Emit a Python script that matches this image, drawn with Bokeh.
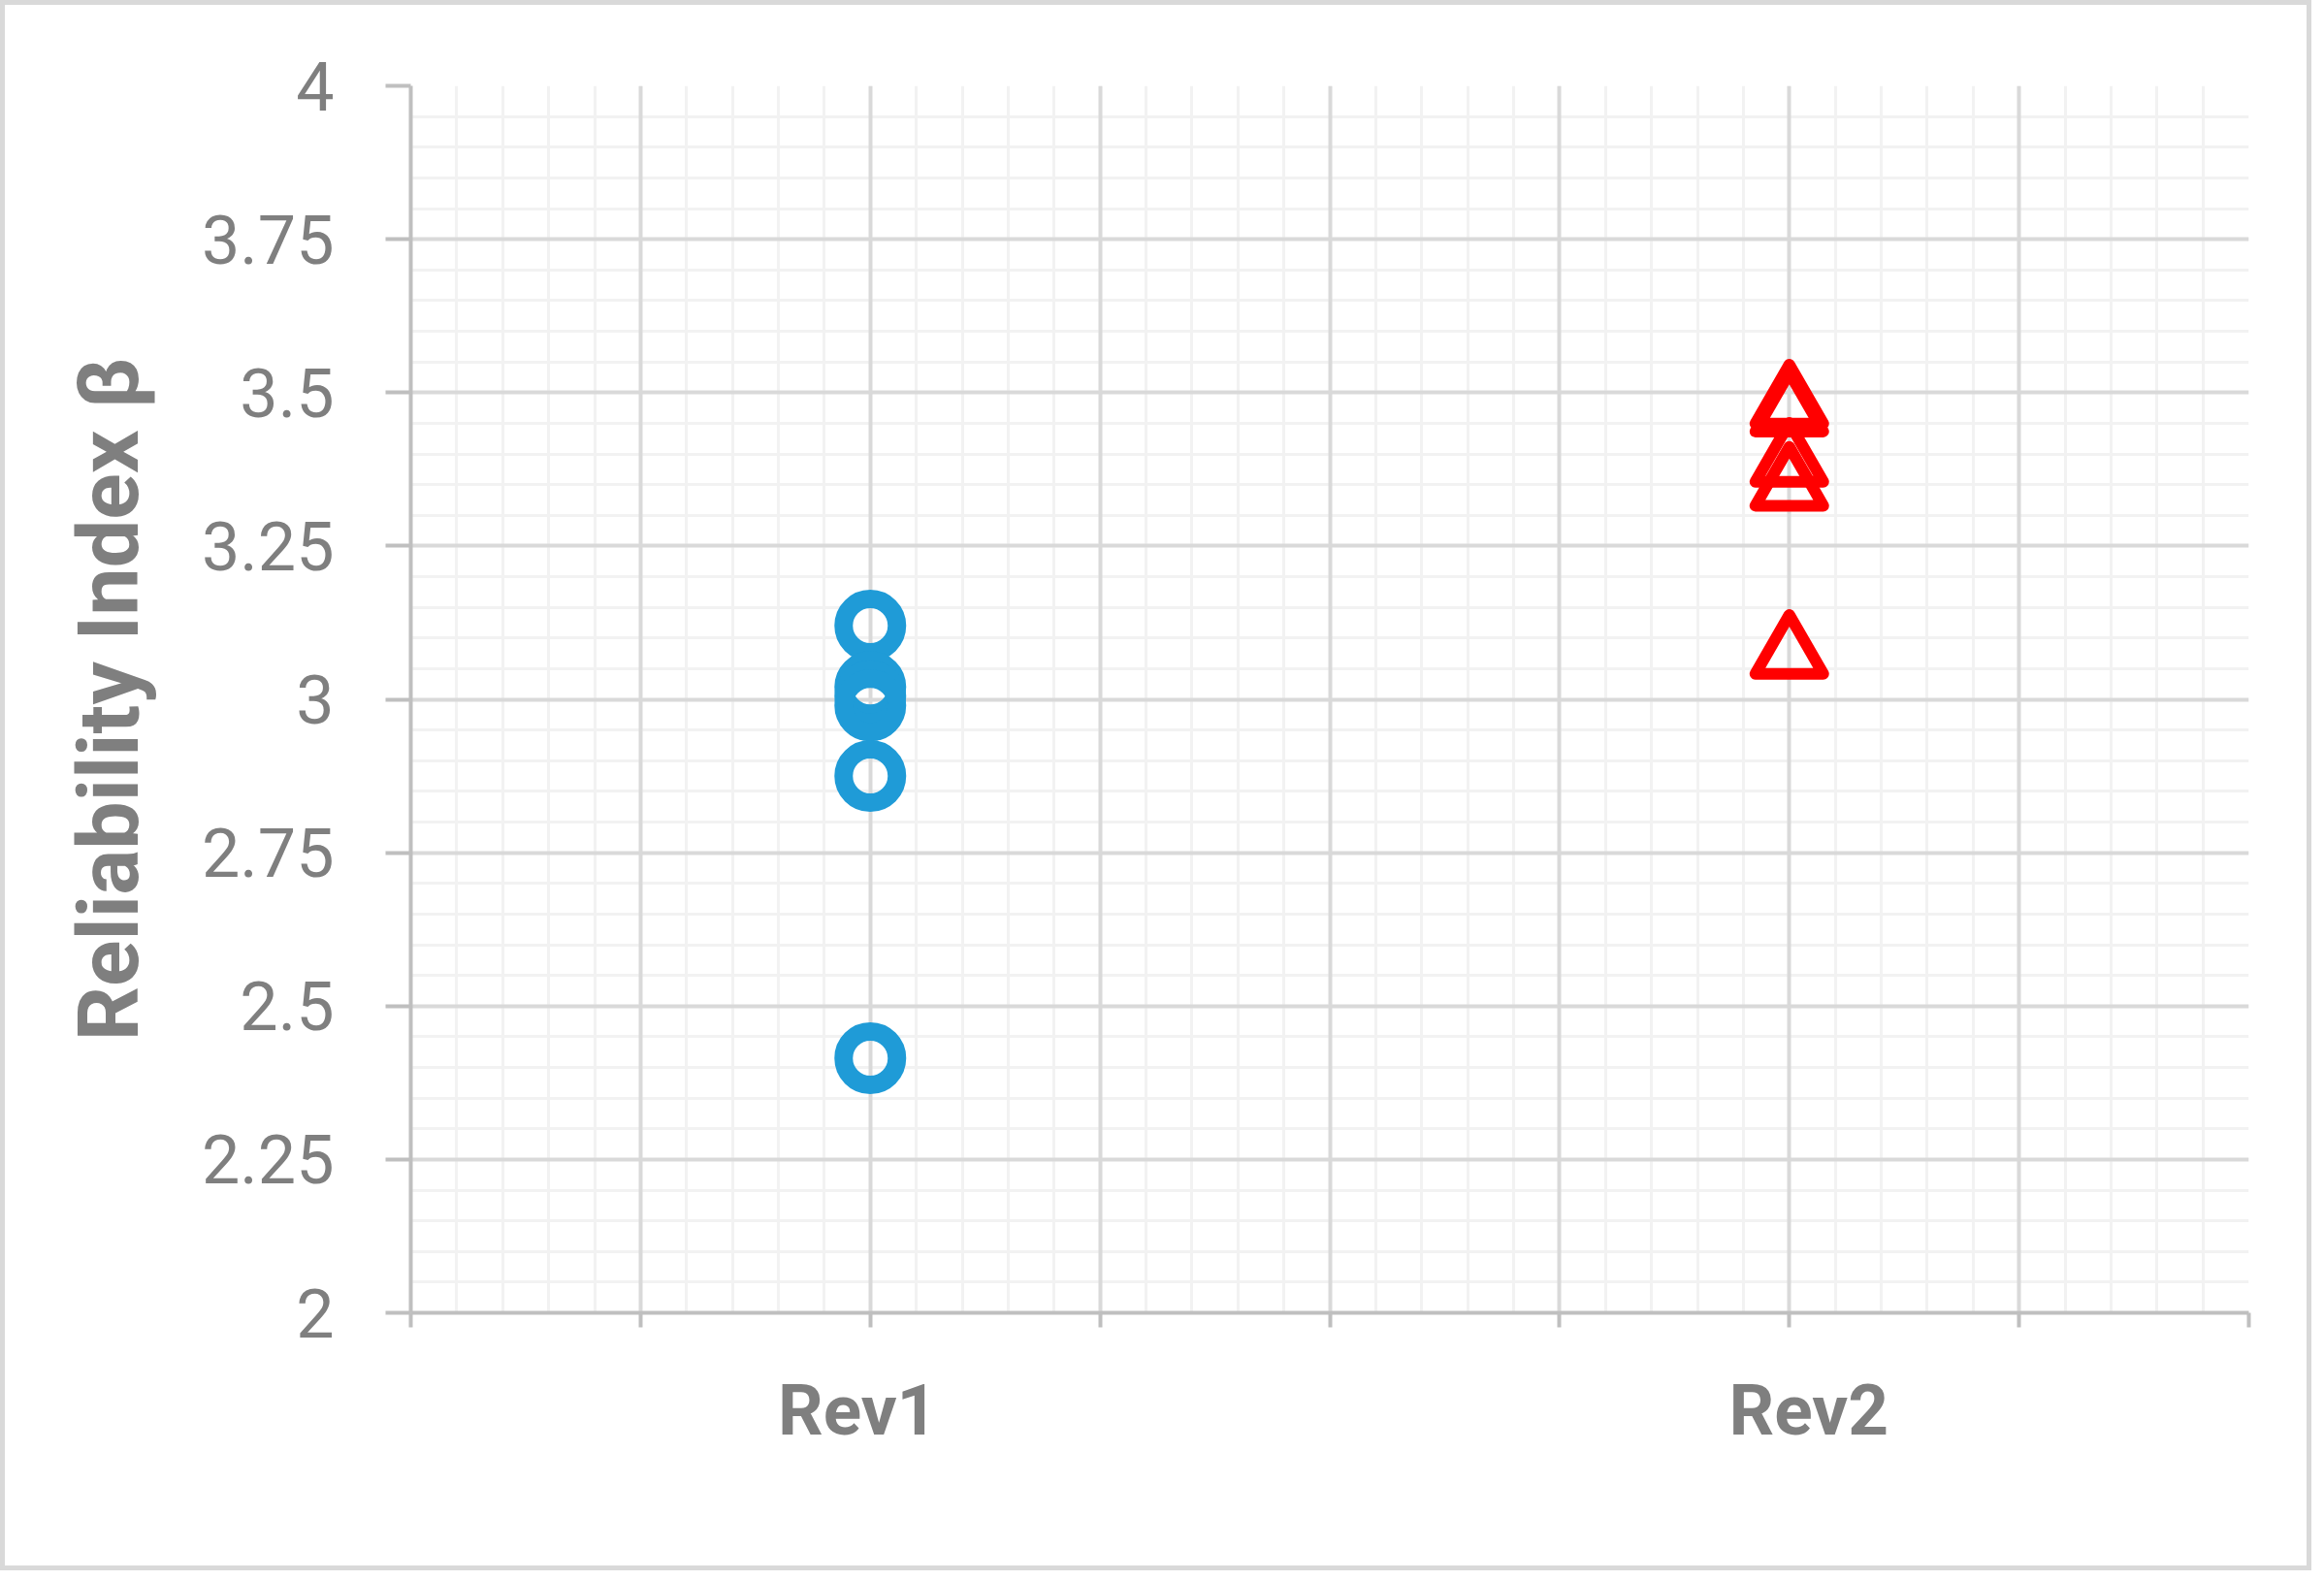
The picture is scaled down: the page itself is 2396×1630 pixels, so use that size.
from bokeh.plotting import figure
from bokeh.models import FixedTicker, Range1d, Grid, LinearAxis, ColumnDataSource, Dodge
from bokeh.embed import file_html
from bokeh.resources import INLINE

# ---- data ----
categories = ["Rev1", "Rev2"]
category_x = [2, 6]
rev1_beta = [3.12, 3.02, 3.005, 2.99, 2.875, 2.415]
rev2_beta = [3.498, 3.485, 3.403, 3.364, 3.09]
y_ticks = [2, 2.25, 2.5, 2.75, 3, 3.25, 3.5, 3.75, 4]
y_tick_labels = ["2", "2.25", "2.5", "2.75", "3", "3.25", "3.5", "3.75", "4"]
x_major = [0, 1, 2, 3, 4, 5, 6, 7, 8]
x_minor = [round(i * 0.2, 2) for i in range(41)]
y_minor = [round(2 + i * 0.05, 2) for i in range(41)]

# style constants
GREY_TXT = "#7f7f7f"
AXIS_C = "#bfbfbf"
LABEL_SHIFT = [-0.055, 0.085]   # category text boxes sit slightly off the tick
TRI_SIZE = 70
TRI_SHIFT = 0.0165              # Excel centres the triangle box, Bokeh its centroid

p = figure(width=2383, height=1619, output_backend="svg", toolbar_location=None,
           x_range=Range1d(0, 8), y_range=Range1d(2, 4))
p.min_border_left = 418
p.min_border_right = 70
p.min_border_top = 83
p.min_border_bottom = 271
p.outline_line_color = None
p.background_fill_color = "white"
p.border_fill_color = "white"
p.styles = {"border": "5px solid #d9d9d9"}

xt = FixedTicker(ticks=x_major, minor_ticks=x_minor)
yt = FixedTicker(ticks=y_ticks, minor_ticks=y_minor)
p.xaxis.ticker = xt
p.yaxis.ticker = yt

# minor grids first, major grids drawn over them
p.xgrid.ticker = xt
p.ygrid.ticker = yt
for g in (p.xgrid, p.ygrid):
    g.grid_line_color = None
    g.minor_grid_line_color = "#f2f2f2"
    g.minor_grid_line_width = 3
for dim, tk in ((0, FixedTicker(ticks=x_major)), (1, FixedTicker(ticks=y_ticks))):
    p.add_layout(Grid(dimension=dim, ticker=tk, grid_line_color="#d9d9d9", grid_line_width=4))

p.xaxis.major_label_overrides = {v: "" for v in x_major}
p.yaxis.major_label_overrides = dict(zip(y_ticks, y_tick_labels))

for ax in (p.xaxis[0], p.yaxis[0]):
    ax.axis_line_color = AXIS_C
    ax.axis_line_width = 4
    ax.major_tick_line_color = AXIS_C
    ax.major_tick_line_width = 4
    ax.major_tick_in = 0
    ax.minor_tick_line_color = None
    ax.major_label_text_color = GREY_TXT
    ax.major_label_text_font = "Roboto"

p.xaxis.major_tick_out = 15

# category labels on their own axis (no line, no ticks), stacked under the x axis
label_pos = [x + s for x, s in zip(category_x, LABEL_SHIFT)]
cat_axis = LinearAxis(ticker=FixedTicker(ticks=label_pos, minor_ticks=[]),
                      major_label_overrides=dict(zip(label_pos, categories)),
                      axis_line_color=None, major_tick_line_color=None,
                      minor_tick_line_color=None,
                      major_label_text_font="Roboto",
                      major_label_text_font_style="bold",
                      major_label_text_font_size="73px",
                      major_label_text_color=GREY_TXT,
                      major_label_standoff=36)
p.xaxis[0].major_label_text_font_size = "1px"
p.xaxis[0].major_label_standoff = 0
p.add_layout(cat_axis, "below")

p.yaxis.major_tick_out = 26
p.yaxis.major_label_text_font_size = "70px"
p.yaxis.major_label_standoff = 53
p.yaxis.axis_label = "Reliability Index \u03b2"
p.yaxis.axis_label_text_font = "Roboto"
p.yaxis.axis_label_text_font_style = "bold"
p.yaxis.axis_label_text_font_size = "88px"
p.yaxis.axis_label_text_color = GREY_TXT
p.yaxis.axis_label_standoff = 42

src1 = ColumnDataSource(dict(x=[category_x[0]] * len(rev1_beta), y=rev1_beta))
src2 = ColumnDataSource(dict(x=[category_x[1]] * len(rev2_beta), y=rev2_beta))

p.scatter("x", "y", source=src1, marker="circle", size=55,
          fill_color=None, line_color="#1f9bd7", line_width=19)
p.scatter("x", {"field": "y", "transform": Dodge(value=-TRI_SHIFT, range=p.y_range)},
          source=src2, marker="triangle", size=TRI_SIZE,
          fill_color=None, line_color="#ff0000", line_width=12, line_join="round")

open("out.html", "w").write(file_html(p, INLINE))
